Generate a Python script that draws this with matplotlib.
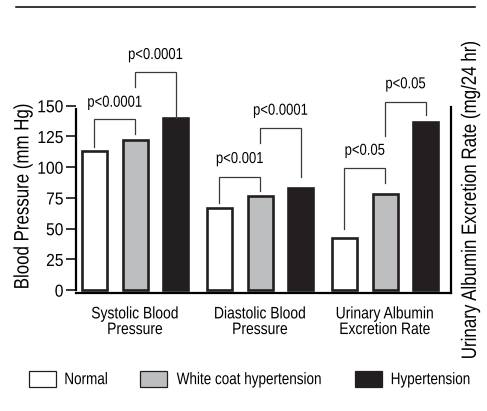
import matplotlib
matplotlib.use("Agg")
import matplotlib.pyplot as plt
from matplotlib.patches import Rectangle
from matplotlib.patheffects import AbstractPathEffect
from matplotlib.transforms import Affine2D
import numpy as np

plt.rcParams['font.family'] = ['Liberation Sans', 'DejaVu Sans']

categories = ["Systolic Blood\nPressure", "Diastolic Blood\nPressure", "Urinary Albumin\nExcretion Rate"]
series = ["Normal", "White coat hypertension", "Hypertension"]
systolic = [113, 122, 140]
diastolic = [67, 76.5, 83]
urinary = [42, 78.5, 137]
yticks = [0, 25, 50, 75, 100, 125, 150]

# brackets: (group, bar_i, bar_j, left_end, right_end, top, label, label_y)
brackets = [
    (0, 0, 1, 116.6, 126.9, 138.9, "p<0.0001", 152.4),
    (0, 1, 2, 165.2, 140.2, 177.6, "p<0.0001", 191.2),
    (1, 0, 1, 70.5, 80.6, 92.2, "p<0.001", 106.6),
    (1, 1, 2, 119.4, 92.2, 131.6, "p<0.0001", 145.9),
    (2, 0, 1, 49.6, 87.3, 99.0, "p<0.05", 113.3),
    (2, 1, 2, 125.3, 142.4, 153.2, "p<0.05", 167.4),
]


class Tall(AbstractPathEffect):
    """Stretch glyphs vertically (gives a condensed-face look) about mid cap height."""
    def __init__(self, sy=1.2):
        super().__init__()
        self.sy = sy

    def draw_path(self, renderer, gc, tpath, affine, rgbFace=None):
        a = 36.0  # mid cap height in text-path units (FONT_SCALE = 100)
        t = Affine2D().translate(0, -a).scale(1, self.sy).translate(0, a) + affine
        renderer.draw_path(gc, tpath, t, rgbFace)


fills = ["white", "#bcbec0", "#231f20"]
W, H = 487, 411
fig = plt.figure(figsize=(W / 100, H / 100), dpi=100)
ax = fig.add_axes([76 / W, 0.2883, (451 - 76) / W, 0.6042])
ax2 = ax.twinx()

offsets = np.array([-0.326, 0.0, 0.326])
width = 0.2
bp_vals = [systolic, diastolic]
for g, vals in enumerate(bp_vals):
    for k in range(3):
        ax.bar(g + offsets[k], vals[k], width, color=fills[k], edgecolor="#231f20",
               linewidth=1.9, zorder=3)
for k in range(3):
    ax2.bar(2 + offsets[k], urinary[k], width, color=fills[k], edgecolor="#231f20",
            linewidth=1.9, zorder=3)

for (g, i, j, le, re, top, lab, ly) in brackets:
    xi = g + offsets[i]
    xj = g + offsets[j]
    ax.plot([xi, xi, xj, xj], [le, top, top, re], color="#3a3a3a", lw=0.9,
            solid_joinstyle="miter", zorder=4, clip_on=False)
    ax.text((xi + xj) / 2, ly, lab, ha="center", va="center", fontsize=9.4,
            path_effects=[Tall(1.22)])

for a in (ax, ax2):
    a.set_ylim(-2, 200)
    a.set_xlim(-0.472, 2.528)
    a.spines["top"].set_visible(False)

ax.spines["right"].set_visible(False)
ax2.spines["left"].set_visible(False)
ax2.spines["bottom"].set_visible(False)
ax.spines["left"].set_bounds(0, 147)
ax2.spines["right"].set_bounds(-2, 149)
for s in ("left", "bottom"):
    ax.spines[s].set_linewidth(1.6)
ax2.spines["right"].set_linewidth(1.6)
ax2.set_yticks([])
ax.set_yticks(yticks)
ax.set_yticklabels([str(t) for t in yticks], fontsize=11.25)
for lbl in ax.get_yticklabels():
    lbl.set_path_effects([Tall(1.11)])
ax.tick_params(axis="y", length=7, width=1.1, pad=2)
ax.set_xticks(range(3))
ax.set_xticklabels(categories, fontsize=10, linespacing=1.15)
for lbl in ax.get_xticklabels():
    lbl.set_path_effects([Tall(1.2)])
ax.tick_params(axis="x", length=0, pad=10)

ax.set_ylabel("Blood Pressure (mm Hg)", fontsize=12.15, path_effects=[Tall(1.235)])
ax.yaxis.label.set(ha="center", va="center")
ax.yaxis.set_label_coords((22.5 - 76) / 375, (292.5 - 196) / 248.3)
ax2.set_ylabel("Urinary Albumin Excretion Rate (mg/24 hr)", fontsize=12.2,
               path_effects=[Tall(1.227)])
ax2.yaxis.label.set(ha="center", va="center")
ax2.yaxis.set_label_coords((470 - 76) / 375, (292.5 - 200) / 248.3)

# top rule
fig.add_artist(plt.Line2D([16 / W, 475 / W], [1 - 7.5 / H, 1 - 7.5 / H], color="black", lw=1.1))

# legend
patch_x = [29, 140, 355]
text_x = [64.3, 176.7, 390.7]
for k in range(3):
    fig.add_artist(Rectangle((patch_x[k] / W, 1 - 387.3 / H), 26.5 / W, 16.6 / H,
                             transform=fig.transFigure, facecolor=fills[k],
                             edgecolor="#231f20", linewidth=0.9))
    fig.text(text_x[k] / W, 1 - 379 / H, series[k], ha="left", va="center",
             fontsize=9.72, path_effects=[Tall(1.235)])

fig.savefig("out.png", dpi=100)
